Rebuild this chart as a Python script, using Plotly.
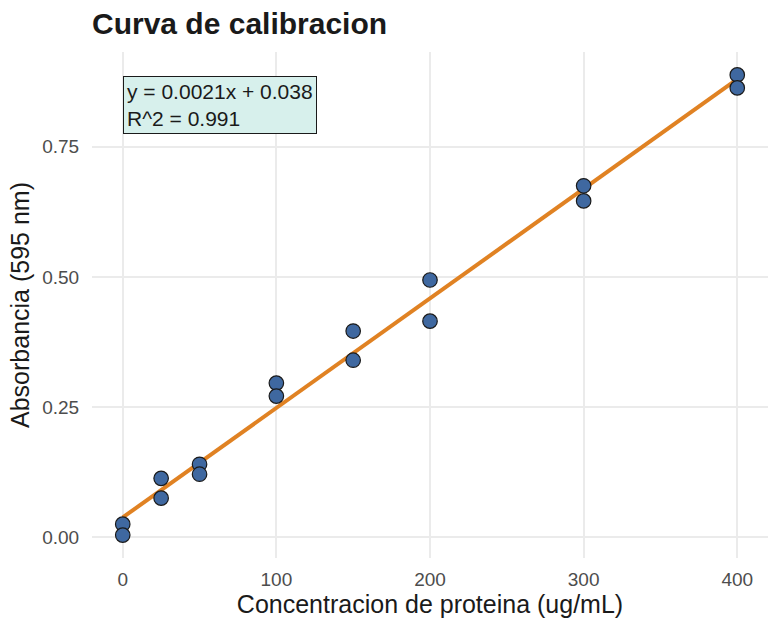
import numpy as np
import plotly.graph_objects as go

conc = [0, 0, 25, 25, 50, 50, 100, 100, 150, 150, 200, 200, 300, 300, 400, 400]
absorb = [0.025, 0.004, 0.113, 0.075, 0.140, 0.121, 0.296, 0.271,
          0.396, 0.340, 0.494, 0.415, 0.675, 0.646, 0.888, 0.863]
x_ticks = [0, 100, 200, 300, 400]
y_ticks = [0.0, 0.25, 0.5, 0.75]
y_tick_labels = ["0.00", "0.25", "0.50", "0.75"]

x = np.array(conc, dtype=float)
y = np.array(absorb, dtype=float)
slope, intercept = np.polyfit(x, y, 1)
pred = slope * x + intercept
r2 = 1 - np.sum((y - pred) ** 2) / np.sum((y - y.mean()) ** 2)
xl = np.array([x.min(), x.max()])
yl = slope * xl + intercept

font_family = "Liberation Sans, Arial, sans-serif"

fig = go.Figure()
fig.add_trace(go.Scatter(x=xl, y=yl, mode="lines",
                         line=dict(color="#E08223", width=4), showlegend=False))
fig.add_trace(go.Scatter(x=conc, y=absorb, mode="markers",
                         marker=dict(size=14.5, color="#3F68A0",
                                     line=dict(color="#1a1a1a", width=1.2)),
                         showlegend=False))

fig.add_annotation(x=0, y=0.885, xref="x", yref="y", xanchor="left", yanchor="top",
                   text=f"y = {slope:.4f}x + {intercept:.3f}<br>R^2 = {r2:.3f}",
                   align="left", showarrow=False,
                   font=dict(family=font_family, size=21, color="#1a1a1a"),
                   bgcolor="#D7F0EC", bordercolor="#1a1a1a", borderwidth=1, borderpad=3)

fig.update_layout(
    width=780, height=630,
    margin=dict(l=92, r=12, t=52, b=72),
    paper_bgcolor="white", plot_bgcolor="white",
    font=dict(family=font_family),
    title=dict(text="<b>Curva de calibracion</b>", x=92/780, xanchor="left",
               y=1 - 23/630, yanchor="middle", xref="container", yref="container",
               font=dict(size=30, color="#1a1a1a", family=font_family)),
)
fig.update_xaxes(range=[-20, 420], tickvals=x_ticks, showgrid=True, gridcolor="#EBEBEB",
                 gridwidth=2, zeroline=False, showline=False,
                 ticks="outside", ticklen=4, tickcolor="rgba(0,0,0,0)",
                 tickfont=dict(size=19, color="#4D4D4D"),
                 title=dict(text="Concentracion de proteina (ug/mL)",
                            font=dict(size=25, color="#1a1a1a"), standoff=4))
fig.update_yaxes(range=[-0.040, 0.932], tickvals=y_ticks, ticktext=y_tick_labels,
                 showgrid=True, gridcolor="#EBEBEB", gridwidth=2, zeroline=False,
                 showline=False, ticks="outside", ticklen=8, tickcolor="rgba(0,0,0,0)",
                 tickfont=dict(size=19, color="#4D4D4D"),
                 title=dict(text="Absorbancia (595 nm)",
                            font=dict(size=25, color="#1a1a1a"), standoff=5))

fig.write_html("out.html")
